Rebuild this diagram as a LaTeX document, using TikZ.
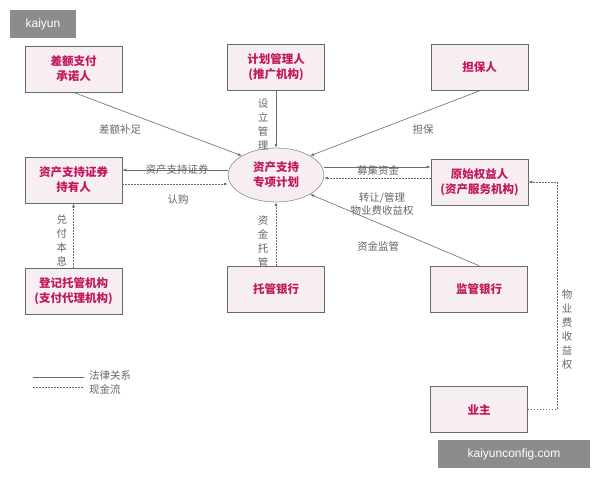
\documentclass[tikz,border=0pt]{standalone}
\usepackage{fontspec}
\setmainfont{Liberation Sans}
\newfontfamily\cjk{Noto Sans CJK SC}
\usetikzlibrary{shapes.geometric,arrows.meta}
\definecolor{bx}{HTML}{F6EEF1}
\definecolor{bd}{HTML}{6A6A6A}
\definecolor{tx}{HTML}{C2185B}
\definecolor{lb}{HTML}{666666}
\tikzset{
 box/.style={draw=bd,fill=bx,line width=0.7pt,minimum width=97pt,minimum height=46pt,font=\cjk\bfseries\fontsize{11.5}{15}\selectfont,text=tx,align=center,inner sep=1pt},
 lab/.style={font=\cjk\fontsize{10.5}{13}\selectfont,text=lb,inner sep=1pt,align=center},
 vlab/.style={lab,text width=12pt,font=\cjk\fontsize{10.5}{14}\selectfont},
 sol/.style={draw=bd,line width=0.6pt,-{Latex[length=4pt,width=3pt]}},
 dsh/.style={draw=bd,line width=0.6pt,dash pattern=on 1.5pt off 1.5pt,-{Latex[length=4pt,width=3pt]}}
}
\begin{document}
\begin{tikzpicture}[x=1pt,y=-1pt]
\useasboundingbox (0,0) rectangle (600,480);
\fill[white] (0,0) rectangle (600,480);
\node[box] (b1) at (73.5,69) {差额支付\\承诺人};
\node[box] (b2) at (276,67) {计划管理人\\(推广机构)};
\node[box] (b3) at (479.5,67.5) {担保人};
\node[box] (b4) at (73.5,180) {资产支持证券\\持有人};
\node[box] (b5) at (479.5,182) {原始权益人\\(资产服务机构)};
\node[box] (b6) at (73.5,291) {登记托管机构\\(支付代理机构)};
\node[box] (b7) at (276,289) {托管银行};
\node[box] (b8) at (479,289) {监管银行};
\node[box] (b9) at (479,409.5) {业主};
\node[draw=bd,fill=bx,ellipse,minimum width=96pt,minimum height=54pt,inner sep=0pt,font=\cjk\bfseries\fontsize{11.5}{15}\selectfont,text=tx,align=center] (c) at (276,175) {资产支持\\专项计划};
\draw[sol] (b1.south) -- (c.north west);
\draw[sol] (b3.south) -- (c.north east);
\draw[sol] (b2.south) -- (c.north);
\draw[sol] (b8.north) -- (c.south east);
\draw[sol] (c.west |- 0,170) -- (b4.east |- 0,170);
\draw[dsh] (b4.east |- 0,184) -- (c.west |- 0,184);
\draw[sol] (c.east |- 0,167) -- (b5.west |- 0,167);
\draw[dsh] (b5.west |- 0,178) -- (c.east |- 0,178);
\draw[dsh] (b6.north) -- (b4.south);
\draw[dsh] (b7.north) -- (c.south);
\coordinate (r1) at (557,409.5);
\coordinate (r2) at (557,182);
\draw[dsh] (b9.east) -- (r1) -- (r2) -- (b5.east);
\node[lab] (l1) at (120,130) {差额补足};
\node[lab] (l2) at (423,130) {担保};
\node[lab] (l3) at (177,170) {资产支持证券};
\node[lab] (l4) at (178,200) {认购};
\node[lab] (l5) at (378,170) {募集资金};
\node[lab] (l6) at (382,204) {转让/管理\\物业费收益权};
\node[lab] (l7) at (378,246) {资金监管};
\node[vlab] (v1) at (263,124) {设\\立\\管\\理};
\node[vlab] (v2) at (263,242) {资\\金\\托\\管};
\node[vlab] (v3) at (62,240) {兑\\付\\本\\息};
\node[vlab] (v4) at (567,330) {物\\业\\费\\收\\益\\权};
\coordinate (g1) at (33,377); \coordinate (g2) at (84,377);
\coordinate (g3) at (33,387); \coordinate (g4) at (84,387);
\draw[bd,line width=0.6pt] (g1) -- (g2);
\draw[bd,line width=0.6pt,dash pattern=on 1.5pt off 1.5pt] (g3) -- (g4);
\node[lab,anchor=west] (t1) at (88,375) {法律关系};
\node[lab,anchor=west] (t2) at (88,389) {现金流};
\node[fill=black!45,text=white,font=\fontsize{12}{14}\selectfont,minimum width=66pt,minimum height=28pt] (w1) at (43,24) {kaiyun};
\node[fill=black!45,text=white,font=\fontsize{12}{14}\selectfont,minimum width=152pt,minimum height=28pt] (w2) at (514,454) {kaiyunconfig.com};
\end{tikzpicture}
\end{document}
